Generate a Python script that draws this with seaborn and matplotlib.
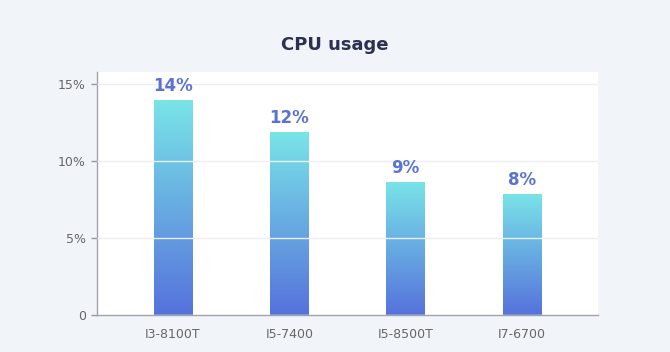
import numpy as np
import pandas as pd
import matplotlib
matplotlib.use("Agg")
import matplotlib.pyplot as plt
from matplotlib.colors import LinearSegmentedColormap
import seaborn as sns

# data
cpus = ["I3-8100T", "I5-7400", "I5-8500T", "I7-6700"]
usage = [13.96, 11.88, 8.64, 7.86]
yticks = [0, 5, 10, 15]
ytick_labels = ["0", "5%", "10%", "15%"]

df = pd.DataFrame({"cpu": cpus, "usage": usage})

sns.set_theme(style="white")
plt.rcParams["font.family"] = ["DejaVu Sans"]

fig = plt.figure(figsize=(6.7, 3.52), dpi=100, facecolor="#f1f4f9")
ax = fig.add_axes([97 / 670, 1 - 315 / 352, 501 / 670, 243 / 352])
ax.set_facecolor("white")

sns.barplot(data=df, x="cpu", y="usage", ax=ax, width=0.33, color="#6aa8e4",
            saturation=1, zorder=2)

# vertical gradient fill for each bar
grad = LinearSegmentedColormap.from_list("g", ["#5672dc", "#79e4e8"])
img = np.linspace(0, 1, 256).reshape(-1, 1)
for p in ax.patches:
    x0, y0 = p.get_x(), p.get_y()
    w, h = p.get_width(), p.get_height()
    im = ax.imshow(img, cmap=grad, origin="lower", aspect="auto",
                   extent=[x0, x0 + w, y0, y0 + h], zorder=2.5)
    im.set_clip_path(p)
    p.set_alpha(0)
    ax.text(x0 + w / 2, y0 + h + 0.3, f"{round(y0 + h):.0f}%", ha="center",
            va="bottom", fontsize=12, fontweight="bold", color="#5a72d2",
            zorder=4)

ax.set_xlim(-0.653, 3.653)
ax.set_ylim(0, 15.78)
ax.set_yticks(yticks)
ax.set_yticklabels(ytick_labels)
ax.yaxis.grid(True, color="#eceef2", linewidth=1, zorder=3)
ax.set_axisbelow(False)
for line in ax.get_ygridlines():
    line.set_zorder(3)

ax.set_xlabel("")
ax.set_ylabel("")
ax.tick_params(axis="both", labelsize=9, labelcolor="#666666", colors="#999999")
ax.tick_params(axis="y", left=True, length=4, width=1, pad=4)
ax.tick_params(axis="x", bottom=False, pad=3)
for s in ["top", "right"]:
    ax.spines[s].set_visible(False)
for s in ["left", "bottom"]:
    ax.spines[s].set_color("#a0a4aa")
    ax.spines[s].set_linewidth(1)

fig.text(0.5, 1 - 45 / 352, "CPU usage", ha="center", va="center",
         fontsize=13, fontweight="bold", color="#2b3150")

fig.savefig("out.png", dpi=100, facecolor=fig.get_facecolor())
